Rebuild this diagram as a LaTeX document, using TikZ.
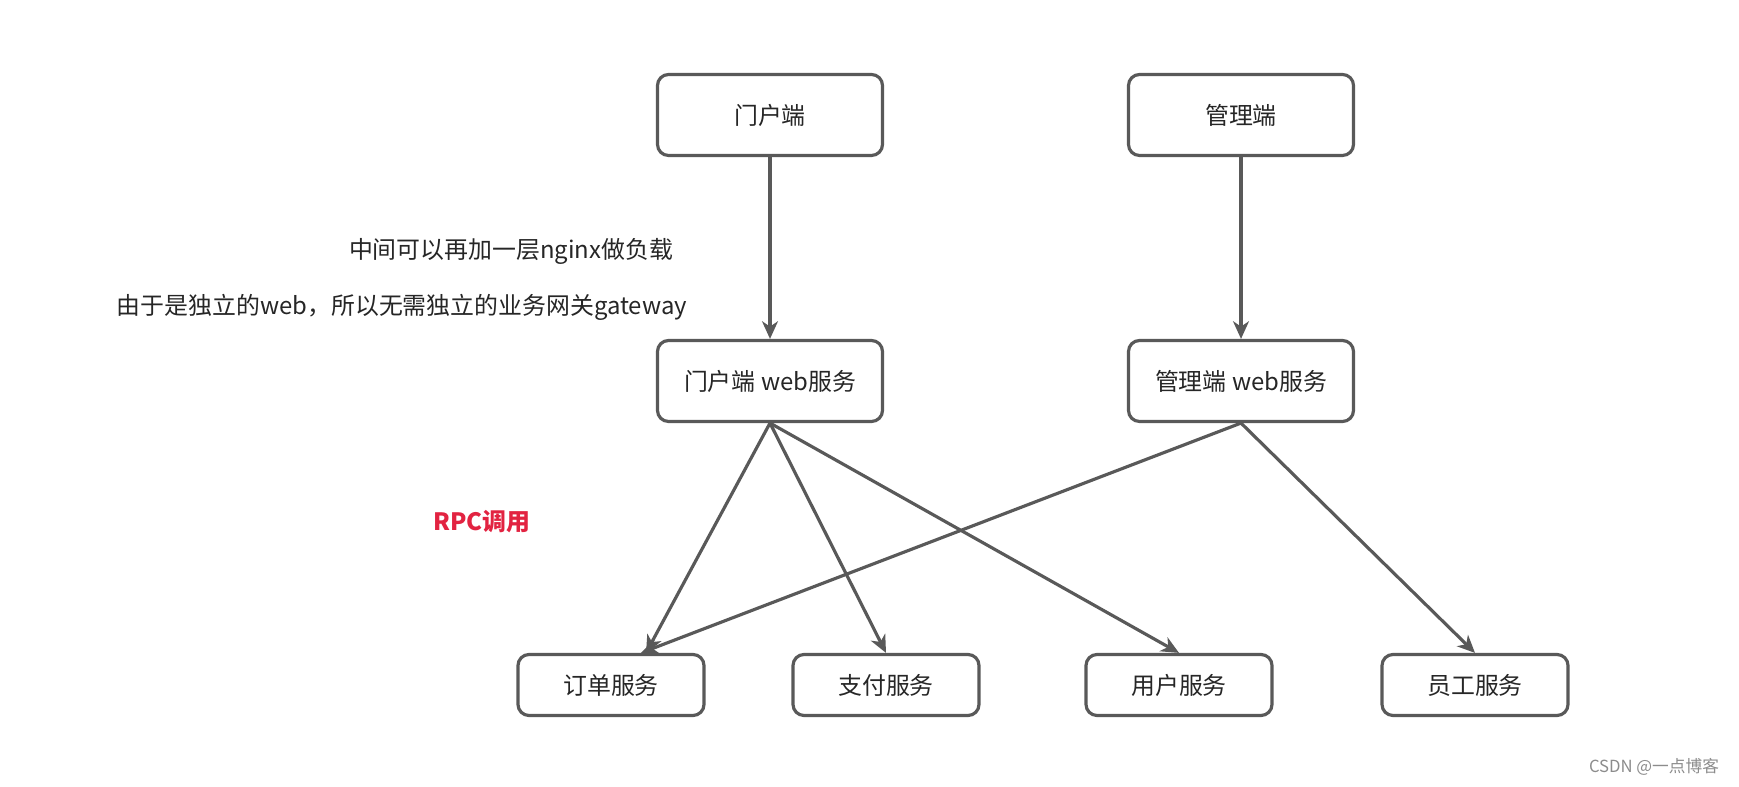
\documentclass[tikz,border=0pt]{standalone}
\usepackage{fontspec}
\setmainfont{Noto Sans CJK SC}
\usetikzlibrary{arrows.meta,positioning}

\definecolor{linegray}{RGB}{89,89,89}
\definecolor{rpcred}{RGB}{226,35,65}

\begin{document}
\begin{tikzpicture}[
    font=\fontsize{13.6pt}{16pt}\selectfont,
    client/.style={rectangle, draw=linegray, line width=1.8pt, rounded corners=0.22cm, minimum width=4.5cm, minimum height=1.62cm, text=black!85},
    service/.style={rectangle, draw=linegray, line width=1.8pt, rounded corners=0.22cm, minimum width=3.72cm, minimum height=1.22cm, text=black!85},
    arrow/.style={draw=linegray, line width=1.8pt, -{Stealth[length=10pt,width=9pt,inset=3pt]}},
    note/.style={text=black!85}
]
\useasboundingbox (0,0) rectangle (34.78,15.74);

% Clients
\node[client] (portal) at (15.40, 13.44) {门户端};
\node[client] (admin) at (24.82, 13.44) {管理端};

% Web services
\node[client] (portalweb) at (15.40, 8.12) {门户端 web服务};
\node[client] (adminweb) at (24.82, 8.12) {管理端 web服务};
\draw[arrow] (portal) -- (portalweb);
\draw[arrow] (admin) -- (adminweb);

% Notes
\node[note] (nginx) at (10.22, 10.72) {中间可以再加一层nginx做负载};
\node[note] (gateway) at (8.04, 9.60) {由于是独立的web，所以无需独立的业务网关gateway};
\node[text=rpcred, font=\fontsize{13.6pt}{16pt}\selectfont\bfseries] (rpc) at (9.64, 5.30) {RPC调用};

% Business services
\node[service] (order) at (12.22, 2.04) {订单服务};
\node[service] (pay) at (17.72, 2.04) {支付服务};
\node[service] (user) at (23.58, 2.04) {用户服务};
\node[service] (staff) at (29.50, 2.04) {员工服务};

% RPC calls
\draw[arrow] (portalweb.south) -- ([xshift=0.7cm]order.north);
\draw[arrow] (portalweb.south) -- (pay.north);
\draw[arrow] (portalweb.south) -- (user.north);
\draw[arrow] (adminweb.south) -- ([xshift=0.6cm]order.north);
\draw[arrow] (adminweb.south) -- (staff.north);

% Watermark
\node[text=black!45, font=\fontsize{9.5pt}{11pt}\selectfont] (mark) at (33.08, 0.40) {CSDN @一点博客};
\end{tikzpicture}
\end{document}
